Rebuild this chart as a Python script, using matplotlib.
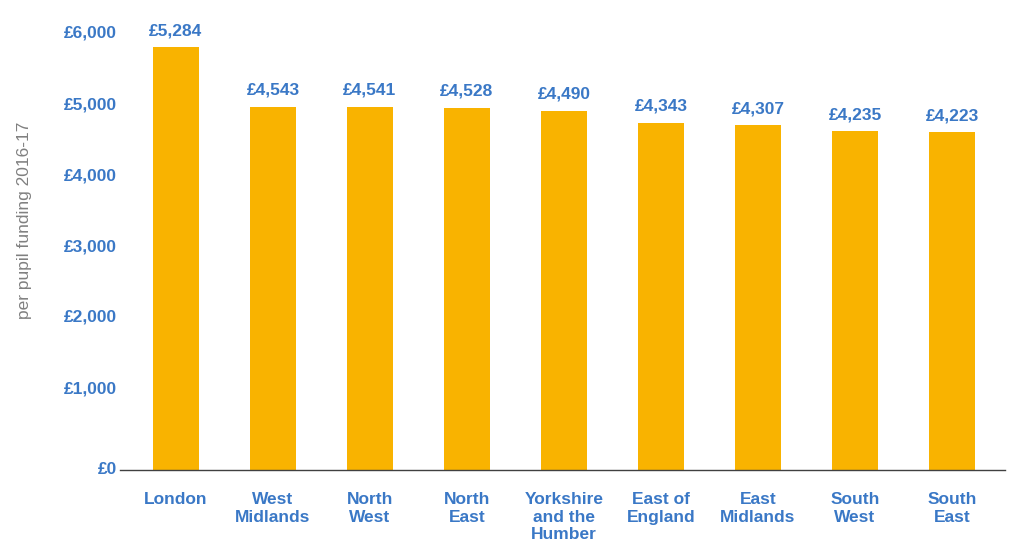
import matplotlib
matplotlib.use("Agg")
import matplotlib.pyplot as plt
import numpy as np

plt.rcParams['font.family'] = ['Liberation Sans', 'DejaVu Sans']

################################################################################

regions = ["London", "West\nMidlands", "North\nWest", "North\nEast",
           "Yorkshire\nand the\nHumber", "East of\nEngland", "East\nMidlands",
           "South\nWest", "South\nEast"]
funding = [5284, 4543, 4541, 4528, 4490, 4343, 4307, 4235, 4223]

tick_labels = ["£0", "£1,000", "£2,000", "£3,000", "£4,000", "£5,000", "£6,000"]
# the axis labels in the original don't sit on the bar scale, so they get
# their own positions (in data units of the bars)
tick_pos = [25, 1037, 1925, 2812, 3700, 4587, 5475]

blue = "#3a78c6"
bar_col = "#f9b300"

################################################################################

fig = plt.figure(figsize=(10.33, 5.58), dpi=100)
ax = fig.add_axes([120/1033, 88/558, 885/1033, 464/558])

x = np.arange(len(regions))
bars = ax.bar(x, funding, width=0.474, color=bar_col, zorder=2)

for xi, v in zip(x, funding):
    ax.annotate(f"£{v:,}", (xi, v), xytext=(0, 6.5), textcoords="offset points",
                ha="center", va="bottom", color=blue, fontsize=12.5,
                fontweight="bold")

ax.set_xlim(-0.577, 8.546)
ax.set_ylim(0, 5800)

ax.set_xticks(x)
ax.set_xticklabels(regions, color=blue, fontsize=12.5, fontweight="bold",
                   linespacing=1.2)
ax.set_yticks(tick_pos)
ax.set_yticklabels(tick_labels, color=blue, fontsize=12.5, fontweight="bold")
ax.tick_params(axis="both", length=0)
ax.tick_params(axis="x", pad=16)
ax.tick_params(axis="y", pad=2)

for s in ["top", "right", "left"]:
    ax.spines[s].set_visible(False)
ax.spines["bottom"].set_color("#404040")
ax.spines["bottom"].set_linewidth(1.0)

fig.text(25/1033, 1 - 220/558, "per pupil funding 2016-17", rotation=90,
         ha="center", va="center", color="#808080", fontsize=12.5)

fig.savefig("out.png", dpi=100)
